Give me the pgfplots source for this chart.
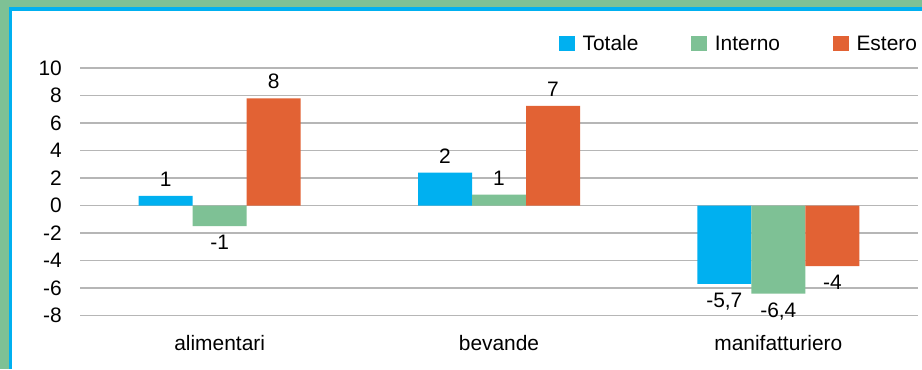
\documentclass[border=0pt]{standalone}
\usepackage{fontspec}
\setmainfont{Liberation Sans}
\usepackage{pgfplots}
\pgfplotsset{compat=1.18}

\definecolor{frameGreen}{RGB}{126,193,149}
\definecolor{frameBlue}{RGB}{0,176,240}
\definecolor{cTotale}{RGB}{0,176,240}
\definecolor{cInterno}{RGB}{126,193,149}
\definecolor{cEstero}{RGB}{226,98,52}
\definecolor{gridGray}{RGB}{182,182,182}

\newcommand{\chartfont}{\fontsize{21}{25}\selectfont}

\begin{document}
\begin{tikzpicture}[x=1bp,y=1bp,font=\chartfont]
\useasboundingbox (0,0) rectangle (922,369);
% panel frame
\fill[frameGreen] (0,0) rectangle (922,369);
\fill[frameBlue] (9,0) rectangle (922,361.7);
\fill[white] (12.3,0) rectangle (922,358.3);
\begin{axis}[
  at={(80bp,53.5bp)}, anchor=south west,
  scale only axis, width=838bp, height=247.5bp,
  xmin=-0.5, xmax=2.5, ymin=-8, ymax=10,
  ybar=0pt, bar width=54bp,
  xtick={0,1,2}, xticklabels={alimentari,bevande,manifatturiero},
  ytick={-8,-6,-4,-2,0,2,4,6,8,10},
  yticklabels={-8,-6,-4,-2,0,2,4,6,8,10},
  ymajorgrids, grid style={gridGray, line width=1.3bp},
  axis line style={draw=none}, tick style={draw=none},
  tick label style={font=\chartfont},
  yticklabel style={anchor=east, inner sep=0pt, xshift=-18bp},
  xticklabel style={anchor=north, inner sep=0pt, yshift=-15bp},
  % value labels: the rounded figures printed with a decimal comma
  nodes near coords, point meta=explicit,
  nodes near coords align=vertical,
  every node near coord/.append style={inner sep=9bp, font=\chartfont, text=black,
    /pgf/number format/.cd, use comma, assume math mode=true},
  legend columns=3,
  legend image code/.code={\fill[#1] (0bp,-7.5bp) rectangle (15.5bp,7.5bp);},
  legend style={draw=none, fill=none, inner sep=0pt, outer sep=0pt,
    at={(0.9988,1.097)}, anchor=east, font=\chartfont,
    column sep=8bp,
    /tikz/every even column/.append style={column sep=53bp},
    nodes={inner sep=0pt}},
]
\addplot[fill=cTotale, draw=none] coordinates {(0,0.7) [1] (1,2.4) [2] (2,-5.7) [-5.7]};
\addplot[fill=cInterno, draw=none] coordinates {(0,-1.5) [-1] (1,0.8) [1] (2,-6.4) [-6.4]};
\addplot[fill=cEstero, draw=none] coordinates {(0,7.8) [8] (1,7.25) [7] (2,-4.4) [-4]};
\legend{Totale,Interno,Estero}
\end{axis}
\end{tikzpicture}
\end{document}
